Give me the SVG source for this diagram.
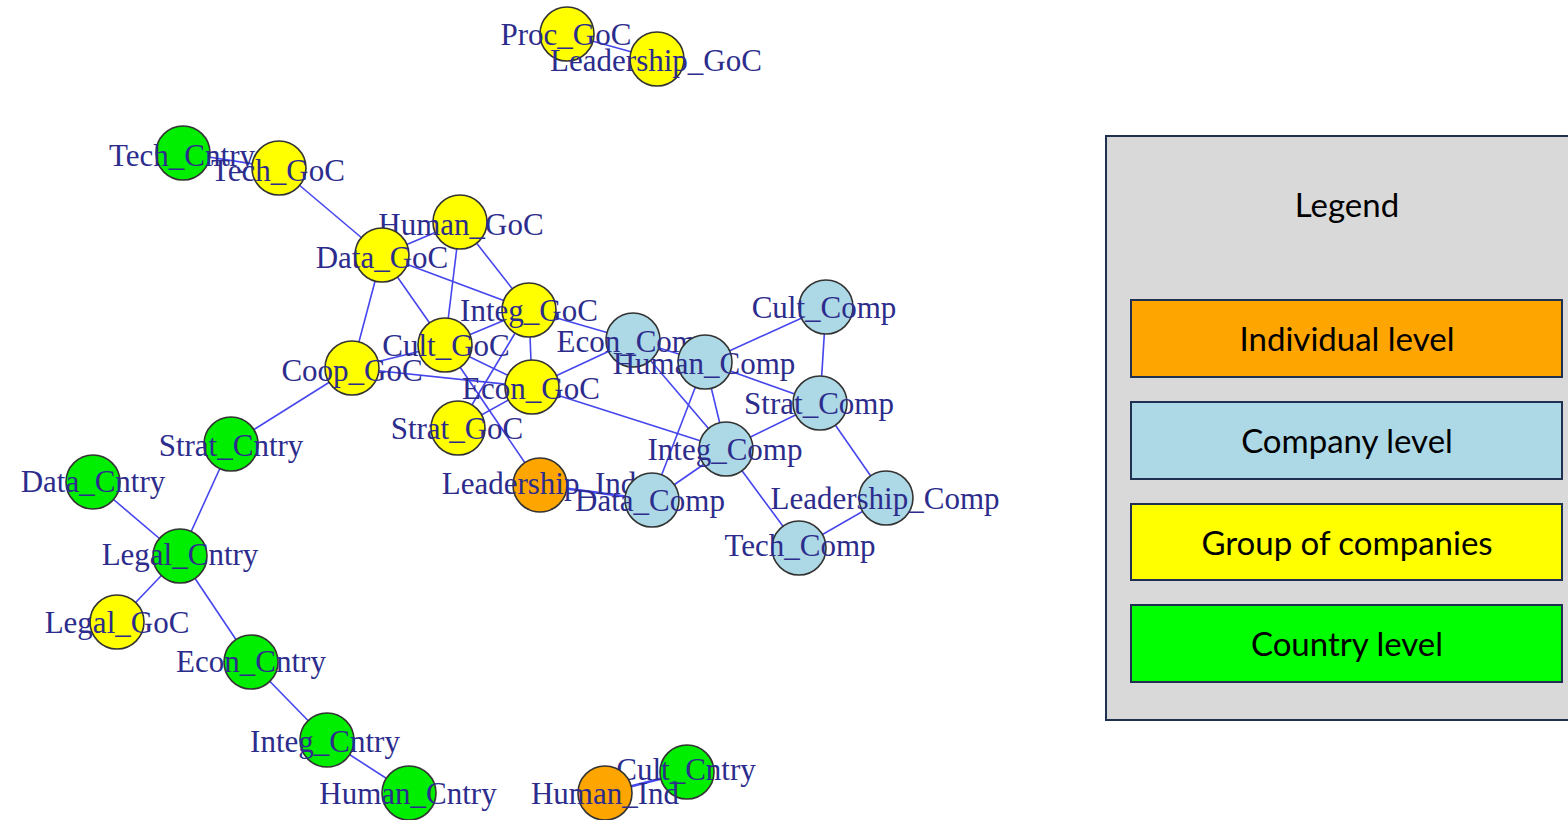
<svg xmlns="http://www.w3.org/2000/svg" width="1568" height="820" viewBox="0 0 1568 820">
<style>
.e{stroke:#4646ee;stroke-width:1.6;fill:none}
.n{stroke:#333333;stroke-width:1.6}
.y{fill:#ffff00}.g{fill:#00ee00}.b{fill:#add8e6}.o{fill:#ffa500}
.l{font-family:"Liberation Serif",serif;font-size:31px;fill:#2c2c8c;text-anchor:middle}
.lg{stroke:#1f3050;stroke-width:2}
.lt{font-family:Lato,"Open Sans",sans-serif;font-size:33px;fill:#000;text-anchor:middle}
</style>
<rect width="1568" height="820" fill="#ffffff"/>
<g id="connectors">
<line class="e" x1="567" y1="34" x2="657" y2="59"/>
<line class="e" x1="183" y1="153" x2="279" y2="168"/>
<line class="e" x1="279" y1="168" x2="382" y2="255"/>
<line class="e" x1="382" y1="255" x2="460" y2="222"/>
<line class="e" x1="382" y1="255" x2="529" y2="310"/>
<line class="e" x1="382" y1="255" x2="445" y2="345"/>
<line class="e" x1="382" y1="255" x2="352" y2="368"/>
<line class="e" x1="460" y1="222" x2="445" y2="345"/>
<line class="e" x1="460" y1="222" x2="529" y2="310"/>
<line class="e" x1="529" y1="310" x2="532" y2="387"/>
<line class="e" x1="529" y1="310" x2="445" y2="345"/>
<line class="e" x1="529" y1="310" x2="633" y2="340"/>
<line class="e" x1="445" y1="345" x2="352" y2="368"/>
<line class="e" x1="445" y1="345" x2="532" y2="387"/>
<line class="e" x1="445" y1="345" x2="540" y2="485"/>
<line class="e" x1="352" y1="368" x2="532" y2="387"/>
<line class="e" x1="352" y1="368" x2="231" y2="444"/>
<line class="e" x1="458" y1="428" x2="529" y2="310"/>
<line class="e" x1="458" y1="428" x2="532" y2="387"/>
<line class="e" x1="532" y1="387" x2="633" y2="340"/>
<line class="e" x1="532" y1="387" x2="726" y2="449"/>
<line class="e" x1="633" y1="340" x2="705" y2="362"/>
<line class="e" x1="633" y1="340" x2="726" y2="449"/>
<line class="e" x1="705" y1="362" x2="826" y2="307"/>
<line class="e" x1="705" y1="362" x2="820" y2="403"/>
<line class="e" x1="705" y1="362" x2="726" y2="449"/>
<line class="e" x1="705" y1="362" x2="652" y2="500"/>
<line class="e" x1="826" y1="307" x2="820" y2="403"/>
<line class="e" x1="820" y1="403" x2="726" y2="449"/>
<line class="e" x1="820" y1="403" x2="886" y2="498"/>
<line class="e" x1="726" y1="449" x2="652" y2="500"/>
<line class="e" x1="726" y1="449" x2="799" y2="548"/>
<line class="e" x1="886" y1="498" x2="799" y2="548"/>
<line class="e" x1="540" y1="485" x2="652" y2="500" style="stroke-width:2.4"/>
<line class="e" x1="231" y1="444" x2="180" y2="556"/>
<line class="e" x1="93" y1="482" x2="180" y2="556"/>
<line class="e" x1="180" y1="556" x2="117" y2="622"/>
<line class="e" x1="180" y1="556" x2="251" y2="662"/>
<line class="e" x1="251" y1="662" x2="327" y2="740"/>
<line class="e" x1="327" y1="740" x2="409" y2="793"/>
<line class="e" x1="605" y1="793" x2="687" y2="772" style="stroke-width:2.4"/>
</g>
<g id="Proc_GoC"><circle class="n y" cx="567" cy="34" r="27"/><text class="l" x="566" y="45">Proc_GoC</text></g>
<g id="Leadership_GoC"><circle class="n y" cx="657" cy="59" r="27"/><text class="l" x="656" y="71">Leadership_GoC</text></g>
<g id="Tech_Cntry"><circle class="n g" cx="183" cy="153" r="27"/><text class="l" x="182" y="166">Tech_Cntry</text></g>
<g id="Tech_GoC"><circle class="n y" cx="279" cy="168" r="27"/><text class="l" x="278" y="181">Tech_GoC</text></g>
<g id="Human_GoC"><circle class="n y" cx="460" cy="222" r="27"/><text class="l" x="461" y="235">Human_GoC</text></g>
<g id="Data_GoC"><circle class="n y" cx="382" cy="255" r="27"/><text class="l" x="382" y="268">Data_GoC</text></g>
<g id="Integ_GoC"><circle class="n y" cx="529" cy="310" r="27"/><text class="l" x="529" y="321">Integ_GoC</text></g>
<g id="Cult_GoC"><circle class="n y" cx="445" cy="345" r="27"/><text class="l" x="446" y="356">Cult_GoC</text></g>
<g id="Coop_GoC"><circle class="n y" cx="352" cy="368" r="27"/><text class="l" x="352" y="381">Coop_GoC</text></g>
<g id="Econ_GoC"><circle class="n y" cx="532" cy="387" r="27"/><text class="l" x="531" y="399">Econ_GoC</text></g>
<g id="Strat_GoC"><circle class="n y" cx="458" cy="428" r="27"/><text class="l" x="457" y="439">Strat_GoC</text></g>
<g id="Leadership_Ind"><circle class="n o" cx="540" cy="485" r="27"/><text class="l" x="539" y="494">Leadership_Ind</text></g>
<g id="Econ_Comp"><circle class="n b" cx="633" cy="340" r="27"/><text class="l" x="634" y="352">Econ_Comp</text></g>
<g id="Human_Comp"><circle class="n b" cx="705" cy="362" r="27"/><text class="l" x="704" y="374">Human_Comp</text></g>
<g id="Cult_Comp"><circle class="n b" cx="826" cy="307" r="27"/><text class="l" x="824" y="318">Cult_Comp</text></g>
<g id="Strat_Comp"><circle class="n b" cx="820" cy="403" r="27"/><text class="l" x="819" y="414">Strat_Comp</text></g>
<g id="Integ_Comp"><circle class="n b" cx="726" cy="449" r="27"/><text class="l" x="725" y="460">Integ_Comp</text></g>
<g id="Data_Comp"><circle class="n b" cx="652" cy="500" r="27"/><text class="l" x="650" y="511">Data_Comp</text></g>
<g id="Leadership_Comp"><circle class="n b" cx="886" cy="498" r="27"/><text class="l" x="885" y="509">Leadership_Comp</text></g>
<g id="Tech_Comp"><circle class="n b" cx="799" cy="548" r="27"/><text class="l" x="800" y="556">Tech_Comp</text></g>
<g id="Strat_Cntry"><circle class="n g" cx="231" cy="444" r="27"/><text class="l" x="231" y="456">Strat_Cntry</text></g>
<g id="Data_Cntry"><circle class="n g" cx="93" cy="482" r="27"/><text class="l" x="93" y="492">Data_Cntry</text></g>
<g id="Legal_Cntry"><circle class="n g" cx="180" cy="556" r="27"/><text class="l" x="180" y="565">Legal_Cntry</text></g>
<g id="Legal_GoC"><circle class="n y" cx="117" cy="622" r="27"/><text class="l" x="117" y="633">Legal_GoC</text></g>
<g id="Econ_Cntry"><circle class="n g" cx="251" cy="662" r="27"/><text class="l" x="251" y="672">Econ_Cntry</text></g>
<g id="Integ_Cntry"><circle class="n g" cx="327" cy="740" r="27"/><text class="l" x="325" y="752">Integ_Cntry</text></g>
<g id="Human_Cntry"><circle class="n g" cx="409" cy="793" r="27"/><text class="l" x="408" y="804">Human_Cntry</text></g>
<g id="Cult_Cntry"><circle class="n g" cx="687" cy="772" r="27"/><text class="l" x="686" y="780">Cult_Cntry</text></g>
<g id="Human_Ind"><circle class="n o" cx="605" cy="793" r="27"/><text class="l" x="605" y="804">Human_Ind</text></g>
<g id="legend">
<rect class="lg" x="1106" y="136" width="480" height="584" fill="#d9d9d9"/>
<text class="lt" x="1347" y="217">Legend</text>
<rect class="lg" x="1131" y="300" width="431" height="77" fill="#ffa500"/>
<text class="lt" x="1347" y="351">Individual level</text>
<rect class="lg" x="1131" y="402" width="431" height="77" fill="#add8e6"/>
<text class="lt" x="1347" y="453">Company level</text>
<rect class="lg" x="1131" y="504" width="431" height="76" fill="#ffff00"/>
<text class="lt" x="1347" y="555">Group of companies</text>
<rect class="lg" x="1131" y="605" width="431" height="77" fill="#00ff00"/>
<text class="lt" x="1347" y="656">Country level</text>
</g>
</svg>
